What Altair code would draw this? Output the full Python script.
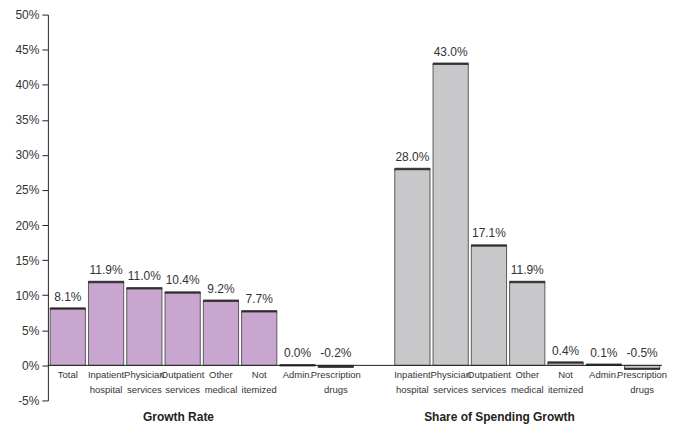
import altair as alt
import pandas as pd

# ---- data ----
growth_labels = ["Total", "Inpatient\nhospital", "Physician\nservices", "Outpatient\nservices",
                 "Other\nmedical", "Not\nitemized", "Admin.", "Prescription\ndrugs"]
growth_values = [8.1, 11.9, 11.0, 10.4, 9.2, 7.7, 0.0, -0.2]

share_labels = ["Inpatient\nhospital", "Physician\nservices", "Outpatient\nservices",
                "Other\nmedical", "Not\nitemized", "Admin.", "Prescription\ndrugs"]
share_values = [28.0, 43.0, 17.1, 11.9, 0.4, 0.1, -0.5]

group_titles = ["Growth Rate", "Share of Spending Growth"]
y_ticks = [-5, 0, 5, 10, 15, 20, 25, 30, 35, 40, 45, 50]

PURPLE = "#c9a6cf"
GRAY = "#c8c8ca"

rows = []
for i, (lab, v) in enumerate(zip(growth_labels, growth_values)):
    rows.append({"key": f"a{i}", "label": lab, "v": v, "grp": "growth", "txt": f"{v:.1f}%"})
for i, (lab, v) in enumerate(zip(share_labels, share_values)):
    rows.append({"key": f"b{i}", "label": lab, "v": v, "grp": "share", "txt": f"{v:.1f}%"})
df = pd.DataFrame(rows)

domain = [f"a{i}" for i in range(len(growth_labels))] + ["gap"] + [f"b{i}" for i in range(len(share_labels))]

W, H = 616, 387
FONT = "Liberation Sans"
xscale = alt.Scale(domain=domain, paddingInner=0.08, paddingOuter=0.06)
yscale = alt.Scale(domain=[-5, 50], nice=False, zero=False)
yaxis = alt.Axis(values=y_ticks, tickCount=12, labelExpr="datum.value + '%'", title=None, grid=False,
                 domainColor="#222", tickColor="#222", tickSize=6, labelPadding=3,
                 labelFontSize=12, labelColor="#333", labelFont=FONT,
                 labelOverlap=False, labelFlush=False, domainWidth=1)

x = alt.X("key:N", scale=xscale, axis=None, sort=domain)

base = alt.Chart(df)

bars = base.mark_bar(stroke="#5a5a5a", strokeWidth=1).encode(
    x=x,
    y=alt.Y("v:Q", scale=yscale, axis=yaxis),
    y2=alt.datum(0),
    color=alt.Color("grp:N", scale=alt.Scale(domain=["growth", "share"], range=[PURPLE, GRAY]), legend=None),
)

tops = base.mark_tick(color="#111111", thickness=2.5, size=36).encode(
    x=x, y=alt.Y("v:Q", scale=yscale, axis=yaxis)
)

zero = alt.Chart(pd.DataFrame({"z": [0]})).mark_rule(color="#222", strokeWidth=1).encode(
    y=alt.Y("z:Q", scale=yscale, axis=yaxis)
)

vlabels = base.transform_calculate(
    pos="max(datum.v, 0)"
).mark_text(baseline="bottom", dy=-5, fontSize=12, color="#333", font=FONT).encode(
    x=x, y=alt.Y("pos:Q", scale=yscale, axis=yaxis), text="txt:N"
)

xlabels = base.mark_text(baseline="top", dy=5, fontSize=9.5, lineHeight=15, lineBreak="\n",
                         color="#333", font=FONT).encode(
    x=x, y=alt.datum(0), text="label:N"
)

tdf = pd.DataFrame({"t": group_titles, "px": [131, 453]})
titles = alt.Chart(tdf).mark_text(fontSize=12, fontWeight="bold", color="#222",
                                  font=FONT, baseline="middle").encode(
    x=alt.X("px:Q", scale=None), y=alt.value(H + 17), text="t:N"
)

chart = alt.layer(bars, tops, zero, vlabels, xlabels, titles).properties(
    width=W, height=H, padding={"left": 6, "top": 0, "right": 0, "bottom": 0}
).configure(background="white", view=alt.ViewConfig(stroke=None))

chart.save("out.html", embed_options={"renderer": "svg", "actions": False})
